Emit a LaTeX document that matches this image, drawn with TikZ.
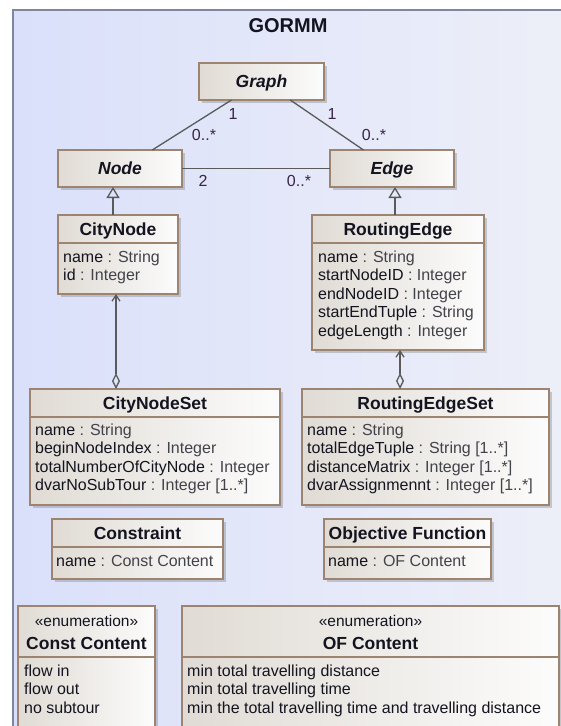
\documentclass[tikz,border=0pt]{standalone}
\usepackage{fontspec}
\setmainfont{Liberation Sans}
\usetikzlibrary{arrows.meta,shadows,calc}
\definecolor{bord}{RGB}{156,132,112}
\definecolor{boxl}{RGB}{224,219,212}
\definecolor{boxr}{RGB}{252,252,252}
\definecolor{pkgl}{RGB}{218,224,250}
\definecolor{pkgr}{RGB}{238,240,248}
\definecolor{pkgline}{RGB}{128,134,160}
\definecolor{conn}{RGB}{90,90,90}
\definecolor{txt}{RGB}{20,20,32}
\definecolor{typ}{RGB}{66,66,74}
\definecolor{mult}{RGB}{58,36,72}
\newcommand\attrtype[1]{\textcolor{typ}{#1}}
\begin{document}
\begin{tikzpicture}[x=1pt,y=-1pt,
  cls/.style={draw=bord, line width=1.3pt, left color=boxl, right color=boxr,
    drop shadow={shadow xshift=3pt,shadow yshift=-3pt,opacity=0.3,fill=black!60},
    anchor=north west, inner sep=0pt, outer sep=0pt},
  div/.style={draw=bord, line width=1.2pt},
  title/.style={anchor=base, font=\fontsize{17.5}{20}\selectfont\bfseries, text=txt, inner sep=0pt},
  ititle/.style={anchor=base, font=\fontsize{17.5}{20}\selectfont\bfseries\itshape, text=txt, inner sep=0pt},
  attr/.style={anchor=base west, font=\fontsize{16}{18.6}\selectfont, text=txt, inner sep=0pt},
  stereo/.style={anchor=base, font=\fontsize{15.5}{18}\selectfont, text=txt, inner sep=0pt},
  mlt/.style={anchor=base, font=\fontsize{16}{18}\selectfont, text=mult, inner sep=0pt},
  assoc/.style={draw=conn, line width=1.3pt},
  gen/.style={assoc, -{Triangle[open, length=11pt, width=13pt]}},
  agg/.style={assoc, {Diamond[open, length=16pt, width=8pt]}-{Straight Barb[length=6pt, width=8pt]}},
]
\path[use as bounding box] (0,0) rectangle (561,726);
\clip (0,0) rectangle (561,726);
\fill[white] (0,0) rectangle (561,726);
\shade[left color=pkgl, right color=pkgr] (13,10) rectangle (600,800);
\draw[pkgline, line width=1.5pt] (13,800) -- (13,10) -- (600,10);
\node[anchor=base, font=\fontsize{20}{24}\selectfont\bfseries, text=txt, inner sep=0pt] (pkgtitle) at (288,32) {GORMM};

% Graph, Node, Edge
\node[cls, minimum width=125pt, minimum height=37pt] (graph) at (199,63) {};
\node[ititle] (graph-t) at (261.5,87.5) {Graph};
\node[cls, minimum width=124pt, minimum height=37pt] (node) at (58,150) {};
\node[ititle] (node-t) at (120,174.5) {Node};
\node[cls, minimum width=124pt, minimum height=37pt] (edge) at (330,150) {};
\node[ititle] (edge-t) at (392,174.5) {Edge};

% CityNode
\node[cls, minimum width=120pt, minimum height=79pt] (citynode) at (58,215) {};
\draw[div] (58,243) -- (178,243);
\node[title] (citynode-t) at (118,235) {CityNode};
\node[attr] (cn1) at (63,262) {name \attrtype{: String}};
\node[attr] (cn2) at (63,280.6) {id \attrtype{: Integer}};

% RoutingEdge
\node[cls, minimum width=172pt, minimum height=135pt] (routingedge) at (312,215) {};
\draw[div] (312,243) -- (484,243);
\node[title] (routingedge-t) at (398,235) {RoutingEdge};
\node[attr] (re1) at (318,262) {name \attrtype{: String}};
\node[attr] (re2) at (318,280.6) {startNodeID \attrtype{: Integer}};
\node[attr] (re3) at (318,299.2) {endNodeID \attrtype{: Integer}};
\node[attr] (re4) at (318,317.8) {startEndTuple \attrtype{: String}};
\node[attr] (re5) at (318,336.4) {edgeLength \attrtype{: Integer}};

% CityNodeSet
\node[cls, minimum width=250pt, minimum height=116pt] (citynodeset) at (30,389) {};
\draw[div] (30,417) -- (280,417);
\node[title] (citynodeset-t) at (155,409) {CityNodeSet};
\node[attr] (cs1) at (35,435) {name \attrtype{: String}};
\node[attr] (cs2) at (35,453.6) {beginNodeIndex \attrtype{: Integer}};
\node[attr] (cs3) at (35,472.2) {totalNumberOfCityNode \attrtype{: Integer}};
\node[attr] (cs4) at (35,490.8) {dvarNoSubTour \attrtype{: Integer [1..*]}};

% RoutingEdgeSet
\node[cls, minimum width=247pt, minimum height=116pt] (routingedgeset) at (302,389) {};
\draw[div] (302,417) -- (549,417);
\node[title] (routingedgeset-t) at (425.5,409) {RoutingEdgeSet};
\node[attr] (rs1) at (307,435) {name \attrtype{: String}};
\node[attr] (rs2) at (307,453.6) {totalEdgeTuple \attrtype{: String [1..*]}};
\node[attr] (rs3) at (307,472.2) {distanceMatrix \attrtype{: Integer [1..*]}};
\node[attr] (rs4) at (307,490.8) {dvarAssignmennt \attrtype{: Integer [1..*]}};

% Constraint
\node[cls, minimum width=171pt, minimum height=60pt] (constraint) at (52,519) {};
\draw[div] (52,547) -- (223,547);
\node[title] (constraint-t) at (137.5,539) {Constraint};
\node[attr] (co1) at (56,566) {name \attrtype{: Const Content}};

% Objective Function
\node[cls, minimum width=167pt, minimum height=60pt] (objfun) at (324,519) {};
\draw[div] (324,547) -- (491,547);
\node[title] (objfun-t) at (407.5,539) {Objective Function};
\node[attr] (of1) at (328,566) {name \attrtype{: OF Content}};

% Const Content
\node[cls, minimum width=137pt, minimum height=160pt] (constcontent) at (18,606) {};
\draw[div] (18,657) -- (155,657);
\node[stereo] (cc-s) at (86.5,626) {«enumeration»};
\node[title] (cc-t) at (86.5,649) {Const Content};
\node[attr] (cc1) at (24,676) {flow in};
\node[attr] (cc2) at (24,694.6) {flow out};
\node[attr] (cc3) at (24,713.2) {no subtour};

% OF Content
\node[cls, minimum width=377pt, minimum height=160pt] (ofcontent) at (182,606) {};
\draw[div] (182,657) -- (559,657);
\node[stereo] (oc-s) at (370.5,626) {«enumeration»};
\node[title] (oc-t) at (370.5,649) {OF Content};
\node[attr] (oc1) at (187,676) {min total travelling distance};
\node[attr] (oc2) at (187,694.6) {min total travelling time};
\node[attr] (oc3) at (187,713.2) {min the total travelling time and travelling distance};

% connectors
\draw[assoc] ($(graph.south west)!0.26!(graph.south east)$) -- ($(node.north west)!0.76!(node.north east)$);
\draw[assoc] ($(graph.south west)!0.73!(graph.south east)$) -- ($(edge.north west)!0.27!(edge.north east)$);
\draw[assoc] (node.east) -- (edge.west);
\draw[gen] ($(citynode.north west)+(55,0)$) -- ($(node.south west)+(55,0)$);
\draw[gen] ($(routingedge.north west)+(83,0)$) -- ($(edge.south west)+(65,0)$);
\draw[agg] ($(citynodeset.north west)+(86,0)$) -- ($(citynode.south west)+(58,0)$);
\draw[agg] ($(routingedgeset.north west)+(98,0)$) -- ($(routingedge.south west)+(88,0)$);

% multiplicities
\node[mlt] (m1) at (233,119.5) {1};
\node[mlt] (m2) at (204,140.5) {0..*};
\node[mlt] (m3) at (332,119.5) {1};
\node[mlt] (m4) at (374,140.5) {0..*};
\node[mlt] (m5) at (203,186.5) {2};
\node[mlt] (m6) at (299,186.5) {0..*};
\end{tikzpicture}
\end{document}
